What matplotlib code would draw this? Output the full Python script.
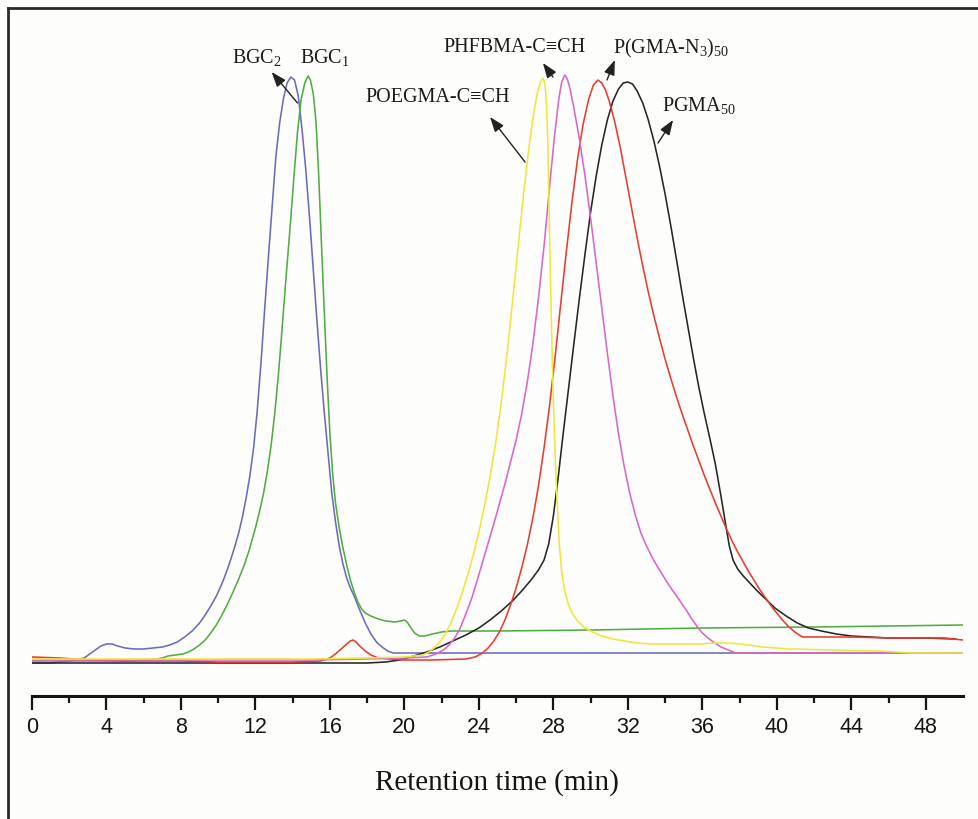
import matplotlib
matplotlib.use("Agg")
import matplotlib.pyplot as plt
from matplotlib.lines import Line2D

plt.rcParams["font.family"] = ["Liberation Serif", "DejaVu Serif"]
plt.rcParams["mathtext.default"] = "regular"

# retention time (min) and detector signal (a.u.)
t_bgc2 = [0, 1, 2.0, 2.4, 2.8, 3.1, 3.4, 3.7, 4.0, 4.3, 4.6, 5.0, 5.5, 6.0, 6.5, 7.0,
          7.4, 7.8, 8.2, 8.6, 9.0, 9.3, 9.6, 9.9, 10.1, 10.3, 10.5, 10.7, 10.9, 11.1,
          11.3, 11.5, 11.7, 11.9, 12.1, 12.3, 12.5, 12.7, 12.9, 13.1, 13.3, 13.5, 13.7,
          13.9, 14.1, 14.3, 14.5, 14.7, 14.9, 15.1, 15.3, 15.5, 15.7, 15.9, 16.1, 16.3,
          16.5, 16.7, 16.9, 17.1, 17.3, 17.6, 17.9, 18.2, 18.5, 18.8, 19.1, 19.4, 19.7,
          25, 35, 50]
s_bgc2 = [33, 33, 35, 36, 38, 42, 46, 50, 52, 52, 50, 48, 47, 47, 48, 49,
          51, 54, 59, 65, 73, 81, 90, 100, 108, 117, 127, 138, 150, 163,
          179, 198, 220, 248, 286, 334, 388, 440, 490, 540, 573, 597, 613,
          619, 616, 600, 567, 527, 480, 428, 376, 327, 283, 243, 203, 174,
          150, 132, 118, 108, 100, 86, 73, 62, 54, 49, 45, 43, 43,
          43, 43, 43]

t_bgc1 = [0, 5, 6.2, 6.7, 7.0, 7.3, 7.7, 8.1, 8.4, 8.7, 9.0, 9.3, 9.6, 9.9, 10.2,
          10.5, 10.8, 11.1, 11.4, 11.7, 12.0, 12.25, 12.45, 12.65, 12.85, 13.05, 13.25,
          13.45, 13.65, 13.85, 14.05, 14.25, 14.45, 14.65, 14.83, 14.95, 15.1, 15.25,
          15.4, 15.55, 15.7, 15.85, 16.0, 16.15, 16.3, 16.5, 16.7, 16.9, 17.1, 17.3, 17.5,
          17.7, 17.9, 18.2, 18.6, 19.0, 19.5, 19.8, 20.0, 20.15, 20.35, 20.55, 20.8, 21.1,
          21.5, 22.0, 22.5, 25, 30, 36, 42, 50]
s_bgc1 = [35, 35, 36, 37, 38, 40, 41, 42, 44, 47, 51, 56, 63, 71, 81,
          92, 104, 117, 131, 148, 168, 187, 204, 226, 252, 285, 325,
          372, 420, 466, 515, 562, 596, 613, 620, 616, 603, 575,
          520, 450, 383, 318, 262, 222, 193, 168, 148, 131, 116, 104, 94,
          87, 83, 80, 77, 75, 74, 75, 76, 74, 68, 63, 60, 60,
          62, 64, 65, 65, 66, 68, 69, 71]

t_poegma = [0, 5, 10, 15, 18, 20, 21.0, 21.3, 21.6, 21.9, 22.2, 22.5, 22.8, 23.1, 23.4,
            23.7, 24.0, 24.3, 24.6, 24.9, 25.2, 25.5, 25.8, 26.1, 26.4, 26.7, 26.95,
            27.15, 27.3, 27.45, 27.55, 27.63, 27.7, 27.78, 27.87, 27.97, 28.08, 28.2,
            28.32, 28.45, 28.6, 28.8, 29.0, 29.3, 29.7, 30.1, 30.6, 31.2, 31.8, 32.5,
            33.2, 34.8, 35.9, 36.6, 37.5, 38.5, 39.2, 40.7, 43, 45.5, 47.3, 50]
s_poegma = [37, 37, 37, 37, 38, 39, 41, 44, 48, 54, 62, 73, 87, 103, 121,
            141, 164, 190, 219, 253, 293, 340, 393, 448, 502, 550, 584,
            604, 614, 618, 611, 592, 555, 480, 395, 315, 250, 195,
            152, 124, 106, 92, 83, 75, 68, 64, 60, 57, 55, 53,
            52, 52, 52, 53, 53, 51, 49, 47, 46, 45, 43, 43]

t_phfbma = [0, 5, 10, 15, 18, 20, 21.2, 21.7, 22.1, 22.4, 22.7, 23.0, 23.3, 23.6, 23.9,
            24.2, 24.5, 24.8, 25.1, 25.4, 25.7, 26.0, 26.3, 26.6, 26.9, 27.2, 27.5, 27.8,
            28.05, 28.3, 28.45, 28.61, 28.75, 28.9, 29.1, 29.4, 29.7, 30.0, 30.3, 30.6,
            30.9, 31.2, 31.5, 31.8, 32.1, 32.4, 32.7, 33.0, 33.3, 33.6, 33.9, 34.2, 34.5,
            34.8, 35.1, 35.4, 35.7, 36.0, 36.3, 36.6, 37.0, 37.4, 37.8, 40, 45, 50]
s_phfbma = [36, 36, 36, 36, 37, 38, 39, 42, 46, 51, 58, 68, 82, 97, 115,
            134, 153, 172, 192, 212, 234, 256, 282, 314, 352, 398, 450, 510,
            558, 598, 614, 621, 617, 607, 588, 557, 520, 478, 433, 388,
            343, 300, 262, 230, 203, 181, 163, 150, 139, 129, 120, 111, 103,
            95, 87, 78, 70, 63, 58, 54, 49, 46, 43, 43, 43, 43]

t_pgman3 = [0, 1.5, 3, 5, 8, 10, 12, 14, 15.5, 16.0, 16.3, 16.6, 16.9, 17.1, 17.25, 17.4,
            17.6, 17.9, 18.2, 18.6, 19.2, 20, 21.5, 23.3, 23.8, 24.2, 24.5, 24.8, 25.1,
            25.4, 25.7, 26.0, 26.3, 26.6, 26.9, 27.2, 27.5, 27.8, 28.1, 28.4, 28.7, 29.0,
            29.3, 29.6, 29.9, 30.15, 30.4, 30.6, 30.8, 31.0, 31.3, 31.6, 31.9, 32.2, 32.5,
            32.8, 33.1, 33.4, 33.7, 34.0, 34.3, 34.6, 34.9, 35.2, 35.5, 35.8, 36.1, 36.4,
            36.7, 37.0, 37.3, 37.6, 37.9, 38.2, 38.5, 38.8, 39.1, 39.4, 39.7, 40.0, 40.3,
            40.6, 40.9, 41.2, 41.4, 42, 44, 46, 49, 50]
s_pgman3 = [39, 38, 36, 35, 35, 34, 34, 34, 35, 38, 42, 47, 52, 55, 56, 54,
            50, 45, 41, 38, 37, 36, 36, 37, 39, 43, 48, 55, 64,
            76, 91, 108, 128, 151, 178, 210, 248, 291, 340, 393, 445, 494,
            537, 572, 597, 611, 616, 613, 606, 595, 574, 548, 518, 488, 458,
            430, 404, 380, 358, 337, 318, 300, 283, 267, 251, 236, 221, 207,
            193, 180, 167, 155, 144, 134, 124, 115, 106, 98, 90, 83, 76,
            70, 65, 61, 59, 59, 59, 58, 58, 56]

t_pgma = [0, 16, 18, 19, 19.75, 20.5, 21.2, 21.9, 22.6, 23.3, 24.0, 24.6, 25.2, 25.8,
          26.3, 26.8, 27.2, 27.5, 27.75, 28.0, 28.25, 28.5, 28.8, 29.1, 29.4, 29.7, 30.0,
          30.3, 30.6, 30.9, 31.2, 31.5, 31.75, 32.0, 32.25, 32.5, 32.8, 33.1, 33.4, 33.7,
          34.0, 34.3, 34.6, 34.9, 35.2, 35.5, 35.8, 36.1, 36.4, 36.7, 37.0, 37.25, 37.45,
          37.65, 37.9, 38.2, 38.5, 38.9, 39.4, 39.9, 40.5, 41.1, 41.7, 42.4, 43.2, 44.0,
          45, 46, 48, 49.6]
s_pgma = [33, 33, 33, 34, 36, 40, 44, 49, 55, 61, 68, 76, 85, 95,
          105, 116, 126, 136, 152, 180, 217, 258, 305, 352, 398, 442, 484,
          520, 551, 576, 595, 607, 613, 614, 612, 605, 593, 576, 555, 530,
          502, 471, 438, 404, 372, 340, 310, 283, 258, 232, 200, 172, 150,
          136, 127, 120, 114, 106, 97, 88, 80, 73, 68, 65, 62, 60,
          59, 58, 58, 57]

series = [
    (t_bgc2, s_bgc2, "#6b6bbd"),
    (t_bgc1, s_bgc1, "#4fad42"),
    (t_pgma, s_pgma, "#262626"),
    (t_pgman3, s_pgman3, "#ea3b2e"),
    (t_phfbma, s_phfbma, "#d966cb"),
    (t_poegma, s_poegma, "#efe63a"),
]

fig = plt.figure(figsize=(9.79, 8.19), dpi=100, facecolor="#fdfdfb")
ax = fig.add_axes([32 / 979, 123 / 819, 931 / 979, 676 / 819])
ax.set_facecolor("none")

for t, s, c in series:
    ax.plot(t, s, color=c, lw=1.15, solid_joinstyle="round")

ax.set_xlim(0, 50)
ax.set_ylim(0, 676)

for side in ["left", "right", "top"]:
    ax.spines[side].set_visible(False)
ax.spines["bottom"].set_linewidth(2.2)
ax.spines["bottom"].set_color("#151515")
ax.set_yticks([])

ax.set_xticks(range(0, 49, 4))
ax.set_xticks(range(2, 47, 4), minor=True)
ax.tick_params(axis="x", which="major", length=10, width=1.6, color="#151515",
               pad=5, labelsize=15.5)
ax.tick_params(axis="x", which="minor", length=5, width=1.6, color="#151515")
for lab in ax.get_xticklabels():
    lab.set_fontfamily(["Liberation Sans", "DejaVu Sans"])
    lab.set_color("#151515")

fig.text(497 / 979, 1 - 783 / 819, "Retention time (min)", ha="center", va="center",
         fontsize=21, color="#151515")

# labels + arrows
arrow = dict(arrowstyle="-|>,head_length=0.9,head_width=0.33", color="#222222",
             lw=1.0, shrinkA=0, shrinkB=0)
notes = [
    ("BGC$_2$", (12.08, 638), (12.87, 624), (14.26, 593)),
    ("BGC$_1$", (15.74, 638), None, None),
    ("PHFBMA-C≡CH", (25.89, 648), (27.44, 633), (27.98, 619)),
    ("P(GMA-N$_3$)$_{50}$", (34.3, 648), (31.3, 636), (30.88, 616)),
    ("POEGMA-C≡CH", (21.8, 598), (24.6, 579), (26.48, 534)),
    ("PGMA$_{50}$", (35.82, 590), (34.43, 576), (33.62, 553)),
]
for txt, pos, head, tail in notes:
    ax.text(pos[0], pos[1], txt, ha="center", va="center", fontsize=14.5,
            color="#1a1a1a")
    if head is not None:
        ax.annotate("", xy=head, xytext=tail, arrowprops=arrow)

# outer frame (left and top edges visible in the original)
fig.add_artist(Line2D([8 / 979, 8 / 979], [0, 1 - 8 / 819], transform=fig.transFigure,
                      color="#2a2a2a", lw=2.0))
fig.add_artist(Line2D([8 / 979, 1], [1 - 8 / 819, 1 - 8 / 819], transform=fig.transFigure,
                      color="#2a2a2a", lw=2.0))

fig.savefig("out.png", dpi=100, facecolor=fig.get_facecolor())
